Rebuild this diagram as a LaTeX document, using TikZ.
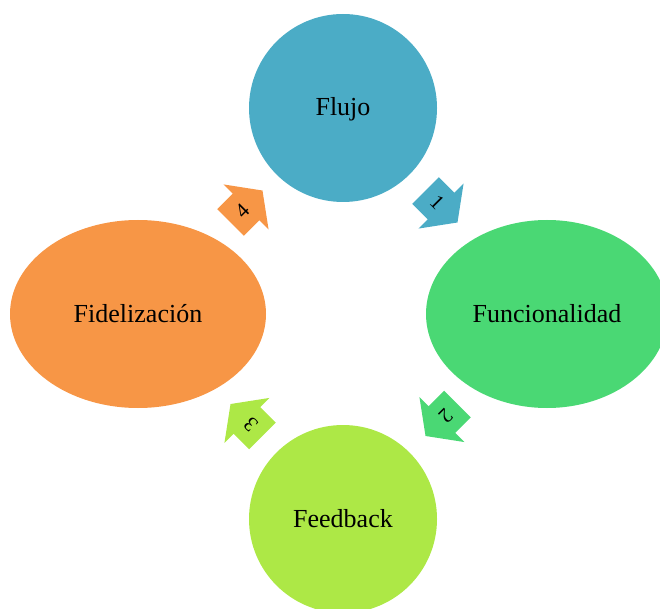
\documentclass[tikz,border=0pt]{standalone}
\usepackage{fontspec}
\setmainfont{Liberation Serif}
\usetikzlibrary{shapes.geometric}
\definecolor{cBlue}{HTML}{4BACC6}
\definecolor{cGreen}{HTML}{4AD874}
\definecolor{cLime}{HTML}{ADE846}
\definecolor{cOrange}{HTML}{F79646}
% block arrow between two stages: name, x, y, direction, colour, label
\newcommand\cyclearrow[6]{%
  \begin{scope}[shift={(#2,#3)}, rotate=#4]
    \fill[#5] (-22.6,18.9) -- (-0.6,18.9) -- (-0.6,31.8) -- (22.6,0)
      -- (-0.6,-31.8) -- (-0.6,-18.9) -- (-22.6,-18.9) -- cycle;
    \node[steplabel, rotate=#4] (#1) at (-6,0) {#6};
  \end{scope}}
\begin{document}
\begin{tikzpicture}[x=1pt, y=1pt,
  stage/.style={ellipse, fill=#1, inner sep=0pt, text height=19pt, text depth=3pt,
    font=\fontsize{26}{30}\selectfont},
  steplabel/.style={inner sep=0pt, font=\fontsize{21}{24}\selectfont}]
\useasboundingbox (0,0) rectangle (660,608);
\clip (0,0) rectangle (660,608);

\node[stage=cBlue,   minimum width=188, minimum height=188] (flujo) at (343,500) {Flujo};
\node[stage=cGreen,  minimum width=242, minimum height=188] (func)  at (547,294) {Funcionalidad};
\node[stage=cLime,   minimum width=188, minimum height=188] (feed)  at (343,89)  {Feedback};
\node[stage=cOrange, minimum width=256, minimum height=188] (fide)  at (138,294) {Fidelización};

\cyclearrow{a1}{441.5}{401.5}{-45}{cBlue}{1}
\cyclearrow{a2}{441.5}{188}{-135}{cGreen}{2}
\cyclearrow{a3}{246.5}{188}{135}{cLime}{3}
\cyclearrow{a4}{246.5}{401.5}{45}{cOrange}{4}
\end{tikzpicture}
\end{document}
